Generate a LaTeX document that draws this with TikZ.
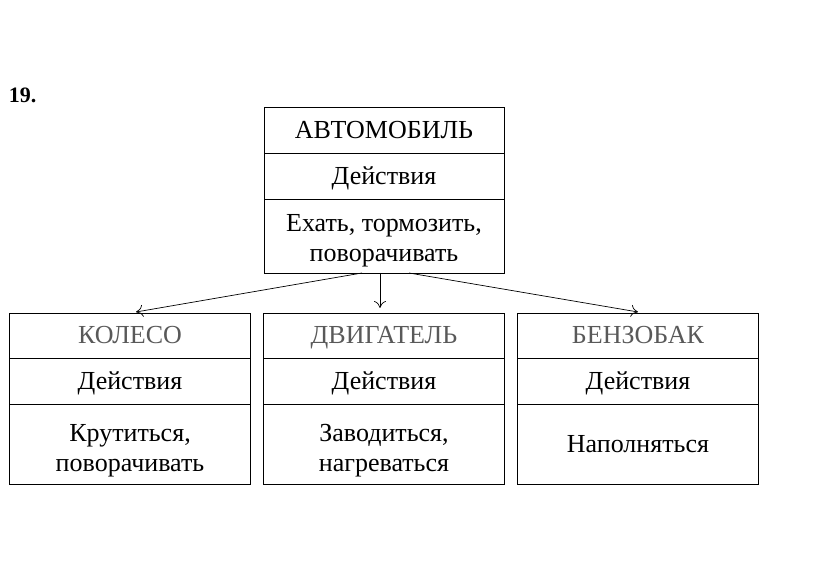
\documentclass[tikz,border=0pt]{standalone}
\usepackage{fontspec}
\setmainfont{Liberation Serif}
\usetikzlibrary{positioning, arrows.meta}
\newcommand{\lift}[1]{\rule{0pt}{#1}}

\begin{document}
\begin{tikzpicture}[x=1pt, y=1pt, >={To[length=7pt, width=12pt]},
                    node distance=40pt, line width=0.9pt]
\tikzstyle{cell}=[shape=rectangle, draw=black, inner sep=0pt,
                  outer sep=0pt, minimum width=241pt, align=center,
                  font=\fontsize{26}{30}\selectfont]
\tikzstyle{head}=[cell, minimum height=46pt, text height=21pt, text depth=4pt]
\tikzstyle{body}=[cell, minimum height=80pt]
  \useasboundingbox (0,0) rectangle (823,586);
  \node[anchor=west, font=\fontsize{22}{24}\selectfont\bfseries] (N) at (5,491) {19.};
  \node[head, minimum width=240pt] (A) at (384,456) {АВТОМОБИЛЬ};
  \node[head, minimum width=240pt] (A1) [below=0pt of A] {Действия};
  \node[body, minimum width=240pt, minimum height=74pt] (A2) [below=0pt of A1] {\lift{27pt}Ехать, тормозить,\\поворачивать};
  \node[head, minimum height=45pt, text=black!65] (D) [below=of A2] {ДВИГАТЕЛЬ};
  \node[head] (D1) [below=0pt of D] {Действия};
  \node[body] (D2) [below=0pt of D1] {\lift{31pt}Заводиться,\\нагреваться};
  \node[head, minimum height=45pt, text=black!65] (K) [left=13pt of D] {КОЛЕСО};
  \node[head] (K1) [below=0pt of K] {Действия};
  \node[body] (K2) [below=0pt of K1] {\lift{31pt}Крутиться,\\поворачивать};
  \node[head, minimum height=45pt, text=black!65] (B) [right=13pt of D] {БЕНЗОБАК};
  \node[head] (B1) [below=0pt of B] {Действия};
  \node[body] (B2) [below=0pt of B1] {Наполняться};
  \coordinate (s1) at ([xshift=-22pt]A2.south);
  \coordinate (s2) at ([xshift=-4pt]A2.south);
  \coordinate (s3) at ([xshift=25pt]A2.south);
  \draw[->, line width=0.7pt] (s1) -- ([xshift=6pt, yshift=1pt]K.north);
  \draw[->, line width=0.7pt] (s2) -- ([yshift=5pt]s2 |- D.north);
  \draw[->, line width=0.7pt] (s3) -- ([yshift=1pt]B.north);
\end{tikzpicture}
\end{document}
